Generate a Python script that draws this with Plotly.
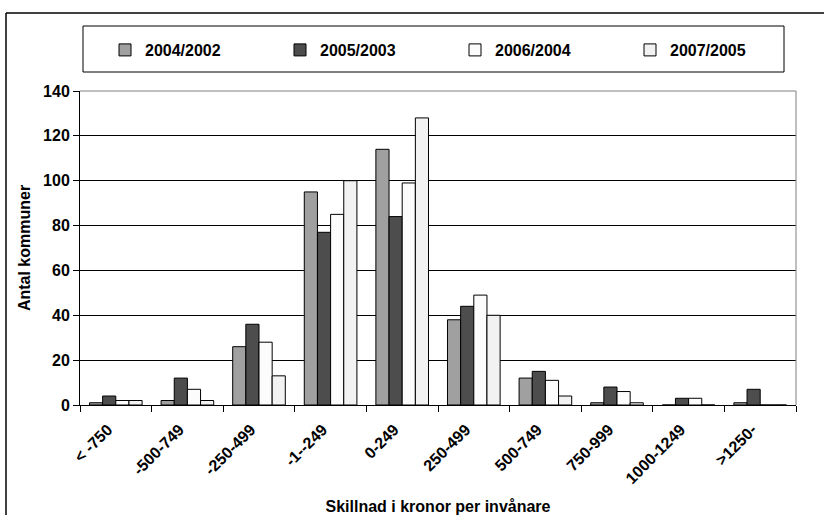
import plotly.graph_objects as go

categories = ["< -750", "-500-749", "-250-499", "-1--249", "0-249",
              "250-499", "500-749", "750-999", "1000-1249", ">1250-"]
series_names = ["2004/2002", "2005/2003", "2006/2004", "2007/2005"]
v_2004_2002 = [1, 2, 26, 95, 114, 38, 12, 1, 0, 1]
v_2005_2003 = [4, 12, 36, 77, 84, 44, 15, 8, 3, 7]
v_2006_2004 = [2, 7, 28, 85, 99, 49, 11, 6, 3, 0]
v_2007_2005 = [2, 2, 13, 100, 128, 40, 4, 1, 0, 0]
y_ticks = [0, 20, 40, 60, 80, 100, 120, 140]

series_values = [v_2004_2002, v_2005_2003, v_2006_2004, v_2007_2005]
colors = ["#A0A0A0", "#4D4D4D", "#FCFCFC", "#F2F2F2"]

FONT = "Liberation Sans, Arial, sans-serif"
FS = 16

fig = go.Figure()
for name, vals, col in zip(series_names, series_values, colors):
    fig.add_trace(go.Bar(
        x=categories, y=vals, name=name,
        marker=dict(color=col, line=dict(color="black", width=1)),
    ))

W, H = 824, 515
L, R, T, B = 80, 28, 91, 110
pw, ph = W - L - R, H - T - B

def px_x(x):
    return (x - L) / pw

def px_y(y):
    return (H - B - y) / ph

bold = dict(family=FONT, size=FS, color="black", weight="bold")

fig.update_layout(
    width=W, height=H,
    margin=dict(l=L, r=R, t=T, b=B),
    paper_bgcolor="white", plot_bgcolor="white",
    barmode="group", bargap=0.265, bargroupgap=0,
    font=bold,
    showlegend=True,
    legend=dict(
        orientation="h",
        x=px_x(105), xanchor="left",
        y=px_y(50), yanchor="middle",
        entrywidth=130, entrywidthmode="pixels",
        font=bold,
        bgcolor="rgba(0,0,0,0)",
        traceorder="normal",
    ),
    xaxis=dict(
        type="category",
        showline=True, linecolor="black", linewidth=1,
        ticks="outside", tickson="boundaries", ticklen=6, tickcolor="black",
        tickangle=-45,
        tickfont=bold,
        ticklabelstandoff=8, ticklabelshift=-8,
        showgrid=False,
        title=dict(text="Skillnad i kronor per invånare", font=bold, standoff=14),
        automargin=False,
    ),
    yaxis=dict(
        range=[0, 140],
        tickvals=y_ticks,
        showline=True, linecolor="black", linewidth=1,
        ticks="outside", ticklen=6, tickcolor="black",
        showgrid=True, gridcolor="black", gridwidth=1,
        zeroline=False,
        tickfont=bold,
        title=dict(text="Antal kommuner", font=bold, standoff=8),
        automargin=False,
    ),
    shapes=[
        # top & right plot-area border (gray)
        dict(type="line", xref="paper", yref="paper", x0=0, x1=1, y0=1, y1=1,
             line=dict(color="#808080", width=1), layer="above"),
        dict(type="line", xref="paper", yref="paper", x0=1, x1=1, y0=0, y1=1,
             line=dict(color="#808080", width=1), layer="above"),
        # legend box
        dict(type="rect", xref="paper", yref="paper",
             x0=px_x(83), x1=px_x(784), y0=px_y(72), y1=px_y(26),
             line=dict(color="black", width=1), fillcolor="rgba(0,0,0,0)"),
        # outer chart border (top and left edges visible)
        dict(type="line", xref="paper", yref="paper",
             x0=px_x(6), x1=px_x(900), y0=px_y(13), y1=px_y(13),
             line=dict(color="black", width=1.5)),
        dict(type="line", xref="paper", yref="paper",
             x0=px_x(6), x1=px_x(6), y0=px_y(13), y1=px_y(600),
             line=dict(color="black", width=1.5)),
    ],
)

fig.write_html("out.html")
